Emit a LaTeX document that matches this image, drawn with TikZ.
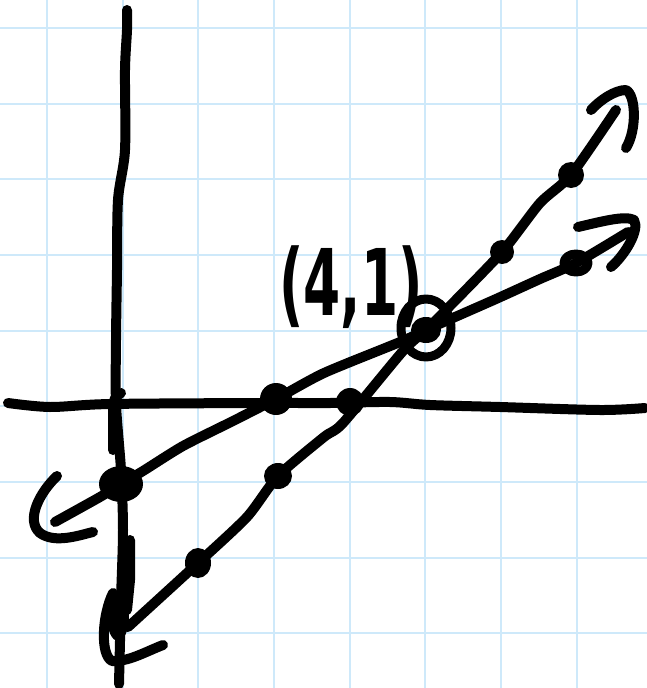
\documentclass[tikz,border=0pt]{standalone}
\usepackage{fontspec}
\newfontfamily\handfont{DejaVu Sans}
\definecolor{gridblue}{RGB}{206,233,250}
\tikzset{
  gridline/.style={draw=gridblue, line width=2pt},
  ink/.style={draw=black, line width=10pt, line cap=round, line join=round},
  blob/.style={fill=black},
}
\begin{document}
\begin{tikzpicture}[x=1pt,y=-1pt]
\useasboundingbox (0,0) rectangle (647,688);
\fill[white] (0,0) rectangle (647,688);
% grid
\foreach \k in {0,...,7} \draw[gridline] ({47+75.65*\k},0) -- ({47+75.65*\k},688);
\foreach \k in {0,...,8} \draw[gridline] (0,{28+75.65*\k}) -- (647,{28+75.65*\k});

% named points
\coordinate (yint) at (121,484);
\coordinate (xint1) at (276,399);
\coordinate (xint2) at (350,402);
\coordinate (P) at (426,330);
\coordinate (q1) at (576,263);
\coordinate (r1) at (198,563);
\coordinate (r2) at (278,476);
\coordinate (r3) at (502,252);
\coordinate (r4) at (571,175);
\coordinate (end1) at (55,522);
\coordinate (tip1) at (628,232);
\coordinate (end2) at (128,627);
\coordinate (tip2) at (616,110);

% y-axis
\draw[ink] plot[smooth, tension=0.5] coordinates {(127,10) (127,30) (125,70) (125,150) (118,200) (117,270) (116,340) (116,404) (121,470) (123,530) (121,600) (119,684)};
\draw[ink] (121,393) .. controls (114,398) .. (113,410) -- (113,450);
\draw[ink] (130,540) -- (130,580) -- (127,610);
% x-axis
\draw[ink] plot[smooth, tension=0.5] coordinates {(8,403) (50,407) (110,404) (260,403) (330,403) (390,402) (430,405) (500,407) (600,410) (645,408)};

% line 1 (shallow)
\draw[ink] plot[smooth, tension=0.4] coordinates {(end1) (100,497) (yint) (143,471) (183,446) (233,421) (xint1) (324,373) (400,342) (P) (446,321) (496,299) (540,279) (q1) (tip1)};
\draw[ink] (57,476) .. controls (40,492) and (25,520) .. (40,533) .. controls (55,544) and (80,535) .. (93,532);
\draw[ink] (578,227) .. controls (600,222) and (625,215) .. (634,220) .. controls (640,230) and (625,255) .. (611,267);

% line 2 (steep)
\draw[ink] plot[smooth, tension=0.4] coordinates {(end2) (r1) (247,517) (r2) (324,437) (343,423) (403,351) (P) (446,310) (r3) (540,203) (r4) (tip2)};
\draw[ink] (591,110) .. controls (600,100) and (615,90) .. (626,90) .. controls (636,95) and (637,130) .. (626,148);
\draw[ink] (163,645) .. controls (145,652) and (128,662) .. (112,661) .. controls (100,655) and (102,615) .. (113,593);
\fill[black] (118,617) ellipse [x radius=11, y radius=24];

% dots
\fill[black] (yint) ellipse [x radius=22, y radius=18];
\fill[black] (xint1) ellipse [x radius=16, y radius=16];
\fill[black] (xint2) ellipse [x radius=14, y radius=14];
\fill[black] (r1) ellipse [x radius=13, y radius=15];
\fill[black] (r2) ellipse [x radius=14, y radius=13];
\fill[black] (r3) ellipse [x radius=12, y radius=12];
\fill[black] (r4) ellipse [x radius=13, y radius=13];
\draw[ink, line width=9pt] (q1) ellipse [x radius=12, y radius=9];
\fill[black] (P) ellipse [x radius=15, y radius=13];
\draw[ink, line width=9pt] (426,328) ellipse [x radius=25, y radius=29];

% label
\node[inner sep=0pt, xscale=0.58] (lbl) at (351,287) {\handfont\bfseries\fontsize{92}{100}\selectfont (4,1)};
\end{tikzpicture}
\end{document}
